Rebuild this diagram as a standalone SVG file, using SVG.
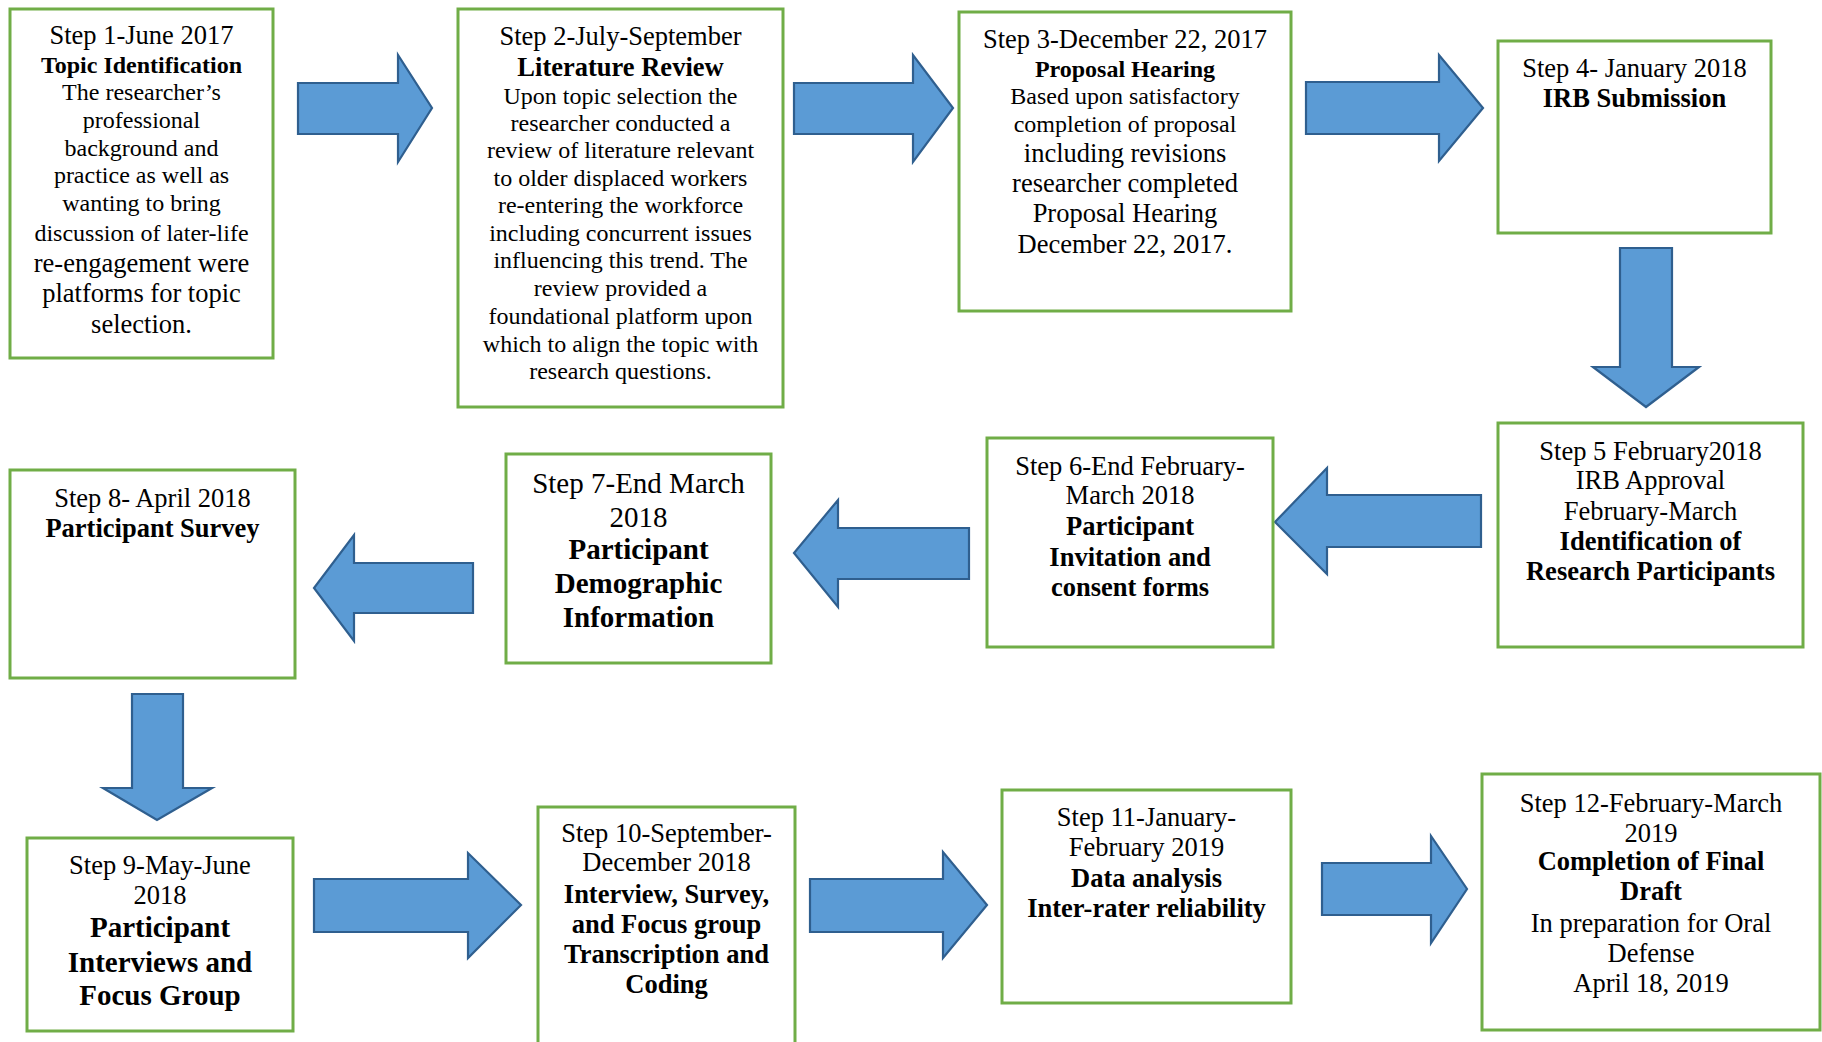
<svg xmlns="http://www.w3.org/2000/svg" width="1822" height="1042" viewBox="0 0 1822 1042">
<style>
.box{fill:#ffffff;stroke:#70AD47;stroke-width:3}
.arr{fill:#5B9BD5;stroke:#2F5F8F;stroke-width:2.2;stroke-linejoin:miter}
text{font-family:"Liberation Serif","Times New Roman",serif;fill:#000;text-anchor:middle}
.b{font-weight:bold}
.s24{font-size:24px}
.s26{font-size:26.5px}
.s29{font-size:29px}
</style>
<rect width="1822" height="1042" fill="#ffffff"/>
<g id="connectors">
<path class="arr" d="M298,83 H398 V55 L432,108 L398,162 V134 H298 Z"/>
<path class="arr" d="M794,83 H913 V55 L953,108 L913,162 V134 H794 Z"/>
<path class="arr" d="M1306,82 H1439 V55 L1483,108 L1439,161 V134 H1306 Z"/>
<path class="arr" d="M1620,248 H1672 V367 H1699 L1646,407 L1593,367 H1620 Z"/>
<path class="arr" d="M1481,495 H1327 V468 L1275,522 L1327,574 V547 H1481 Z"/>
<path class="arr" d="M969,528 H838 V500 L794,553 L838,607 V579 H969 Z"/>
<path class="arr" d="M473,563 H354 V535 L314,588 L354,641 V613 H473 Z"/>
<path class="arr" d="M132,694 H183 V788 H212 L157,820 L103,788 H132 Z"/>
<path class="arr" d="M314,879 H468 V853 L521,905 L468,958 V932 H314 Z"/>
<path class="arr" d="M810,879 H943 V852 L987,905 L943,958 V932 H810 Z"/>
<path class="arr" d="M1322,863 H1431 V836 L1467,889 L1431,943 V915 H1322 Z"/>
</g>
<g id="step1">
<rect class="box" x="10" y="9" width="263" height="349"/>
<text x="141.5" y="44" class="s26">Step 1-June 2017</text>
<text x="141.5" y="73" class="s24 b">Topic Identification</text>
<text x="141.5" y="100" class="s24">The researcher’s</text>
<text x="141.5" y="128" class="s24">professional</text>
<text x="141.5" y="156" class="s24">background and</text>
<text x="141.5" y="183" class="s24">practice as well as</text>
<text x="141.5" y="211" class="s24">wanting to bring</text>
<text x="141.5" y="241" class="s24">discussion of later-life</text>
<text x="141.5" y="272" class="s26">re-engagement were</text>
<text x="141.5" y="302" class="s26">platforms for topic</text>
<text x="141.5" y="333" class="s26">selection.</text>
</g>
<g id="step2">
<rect class="box" x="458" y="9" width="325" height="398"/>
<text x="620.5" y="45" class="s26">Step 2-July-September</text>
<text x="620.5" y="76" class="s26 b">Literature Review</text>
<text x="620.5" y="104" class="s24">Upon topic selection the</text>
<text x="620.5" y="131" class="s24">researcher conducted a</text>
<text x="620.5" y="158" class="s24">review of literature relevant</text>
<text x="620.5" y="186" class="s24">to older displaced workers</text>
<text x="620.5" y="213" class="s24">re-entering the workforce</text>
<text x="620.5" y="241" class="s24">including concurrent issues</text>
<text x="620.5" y="268" class="s24">influencing this trend. The</text>
<text x="620.5" y="296" class="s24">review provided a</text>
<text x="620.5" y="324" class="s24">foundational platform upon</text>
<text x="620.5" y="352" class="s24">which to align the topic with</text>
<text x="620.5" y="379" class="s24">research questions.</text>
</g>
<g id="step3">
<rect class="box" x="959" y="12" width="332" height="299"/>
<text x="1125" y="48" class="s26">Step 3-December 22, 2017</text>
<text x="1125" y="77" class="s24 b">Proposal Hearing</text>
<text x="1125" y="104" class="s24">Based upon satisfactory</text>
<text x="1125" y="132" class="s24">completion of proposal</text>
<text x="1125" y="162" class="s26">including revisions</text>
<text x="1125" y="192" class="s26">researcher completed</text>
<text x="1125" y="222" class="s26">Proposal Hearing</text>
<text x="1125" y="253" class="s26">December 22, 2017.</text>
</g>
<g id="step4">
<rect class="box" x="1498" y="41" width="273" height="192"/>
<text x="1634.5" y="77" class="s26">Step 4- January 2018</text>
<text x="1634.5" y="107" class="s26 b">IRB Submission</text>
</g>
<g id="step5">
<rect class="box" x="1498" y="423" width="305" height="224"/>
<text x="1650.5" y="460" class="s26">Step 5 February2018</text>
<text x="1650.5" y="489" class="s26">IRB Approval</text>
<text x="1650.5" y="520" class="s26">February-March</text>
<text x="1650.5" y="550" class="s26 b">Identification of</text>
<text x="1650.5" y="580" class="s26 b">Research Participants</text>
</g>
<g id="step6">
<rect class="box" x="987" y="438" width="286" height="209"/>
<text x="1130" y="475" class="s26">Step 6-End February-</text>
<text x="1130" y="504" class="s26">March 2018</text>
<text x="1130" y="535" class="s26 b">Participant</text>
<text x="1130" y="566" class="s26 b">Invitation and</text>
<text x="1130" y="596" class="s26 b">consent forms</text>
</g>
<g id="step7">
<rect class="box" x="506" y="454" width="265" height="209"/>
<text x="638.5" y="493" class="s29">Step 7-End March</text>
<text x="638.5" y="527" class="s29">2018</text>
<text x="638.5" y="559" class="s29 b">Participant</text>
<text x="638.5" y="593" class="s29 b">Demographic</text>
<text x="638.5" y="627" class="s29 b">Information</text>
</g>
<g id="step8">
<rect class="box" x="10" y="470" width="285" height="208"/>
<text x="152.5" y="507" class="s26">Step 8- April 2018</text>
<text x="152.5" y="537" class="s26 b">Participant Survey</text>
</g>
<g id="step9">
<rect class="box" x="27" y="838" width="266" height="193"/>
<text x="160" y="874" class="s26">Step 9-May-June</text>
<text x="160" y="904" class="s26">2018</text>
<text x="160" y="937" class="s29 b">Participant</text>
<text x="160" y="972" class="s29 b">Interviews and</text>
<text x="160" y="1005" class="s29 b">Focus Group</text>
</g>
<g id="step10">
<rect class="box" x="538" y="807" width="257" height="250"/>
<text x="666.5" y="842" class="s26">Step 10-September-</text>
<text x="666.5" y="871" class="s26">December 2018</text>
<text x="666.5" y="903" class="s26 b">Interview, Survey,</text>
<text x="666.5" y="933" class="s26 b">and Focus group</text>
<text x="666.5" y="963" class="s26 b">Transcription and</text>
<text x="666.5" y="993" class="s26 b">Coding</text>
</g>
<g id="step11">
<rect class="box" x="1002" y="790" width="289" height="213"/>
<text x="1146.5" y="826" class="s26">Step 11-January-</text>
<text x="1146.5" y="856" class="s26">February 2019</text>
<text x="1146.5" y="887" class="s26 b">Data analysis</text>
<text x="1146.5" y="917" class="s26 b">Inter-rater reliability</text>
</g>
<g id="step12">
<rect class="box" x="1482" y="774" width="338" height="256"/>
<text x="1651" y="812" class="s26">Step 12-February-March</text>
<text x="1651" y="842" class="s26">2019</text>
<text x="1651" y="870" class="s26 b">Completion of Final</text>
<text x="1651" y="900" class="s26 b">Draft</text>
<text x="1651" y="932" class="s26">In preparation for Oral</text>
<text x="1651" y="962" class="s26">Defense</text>
<text x="1651" y="992" class="s26">April 18, 2019</text>
</g>
</svg>
